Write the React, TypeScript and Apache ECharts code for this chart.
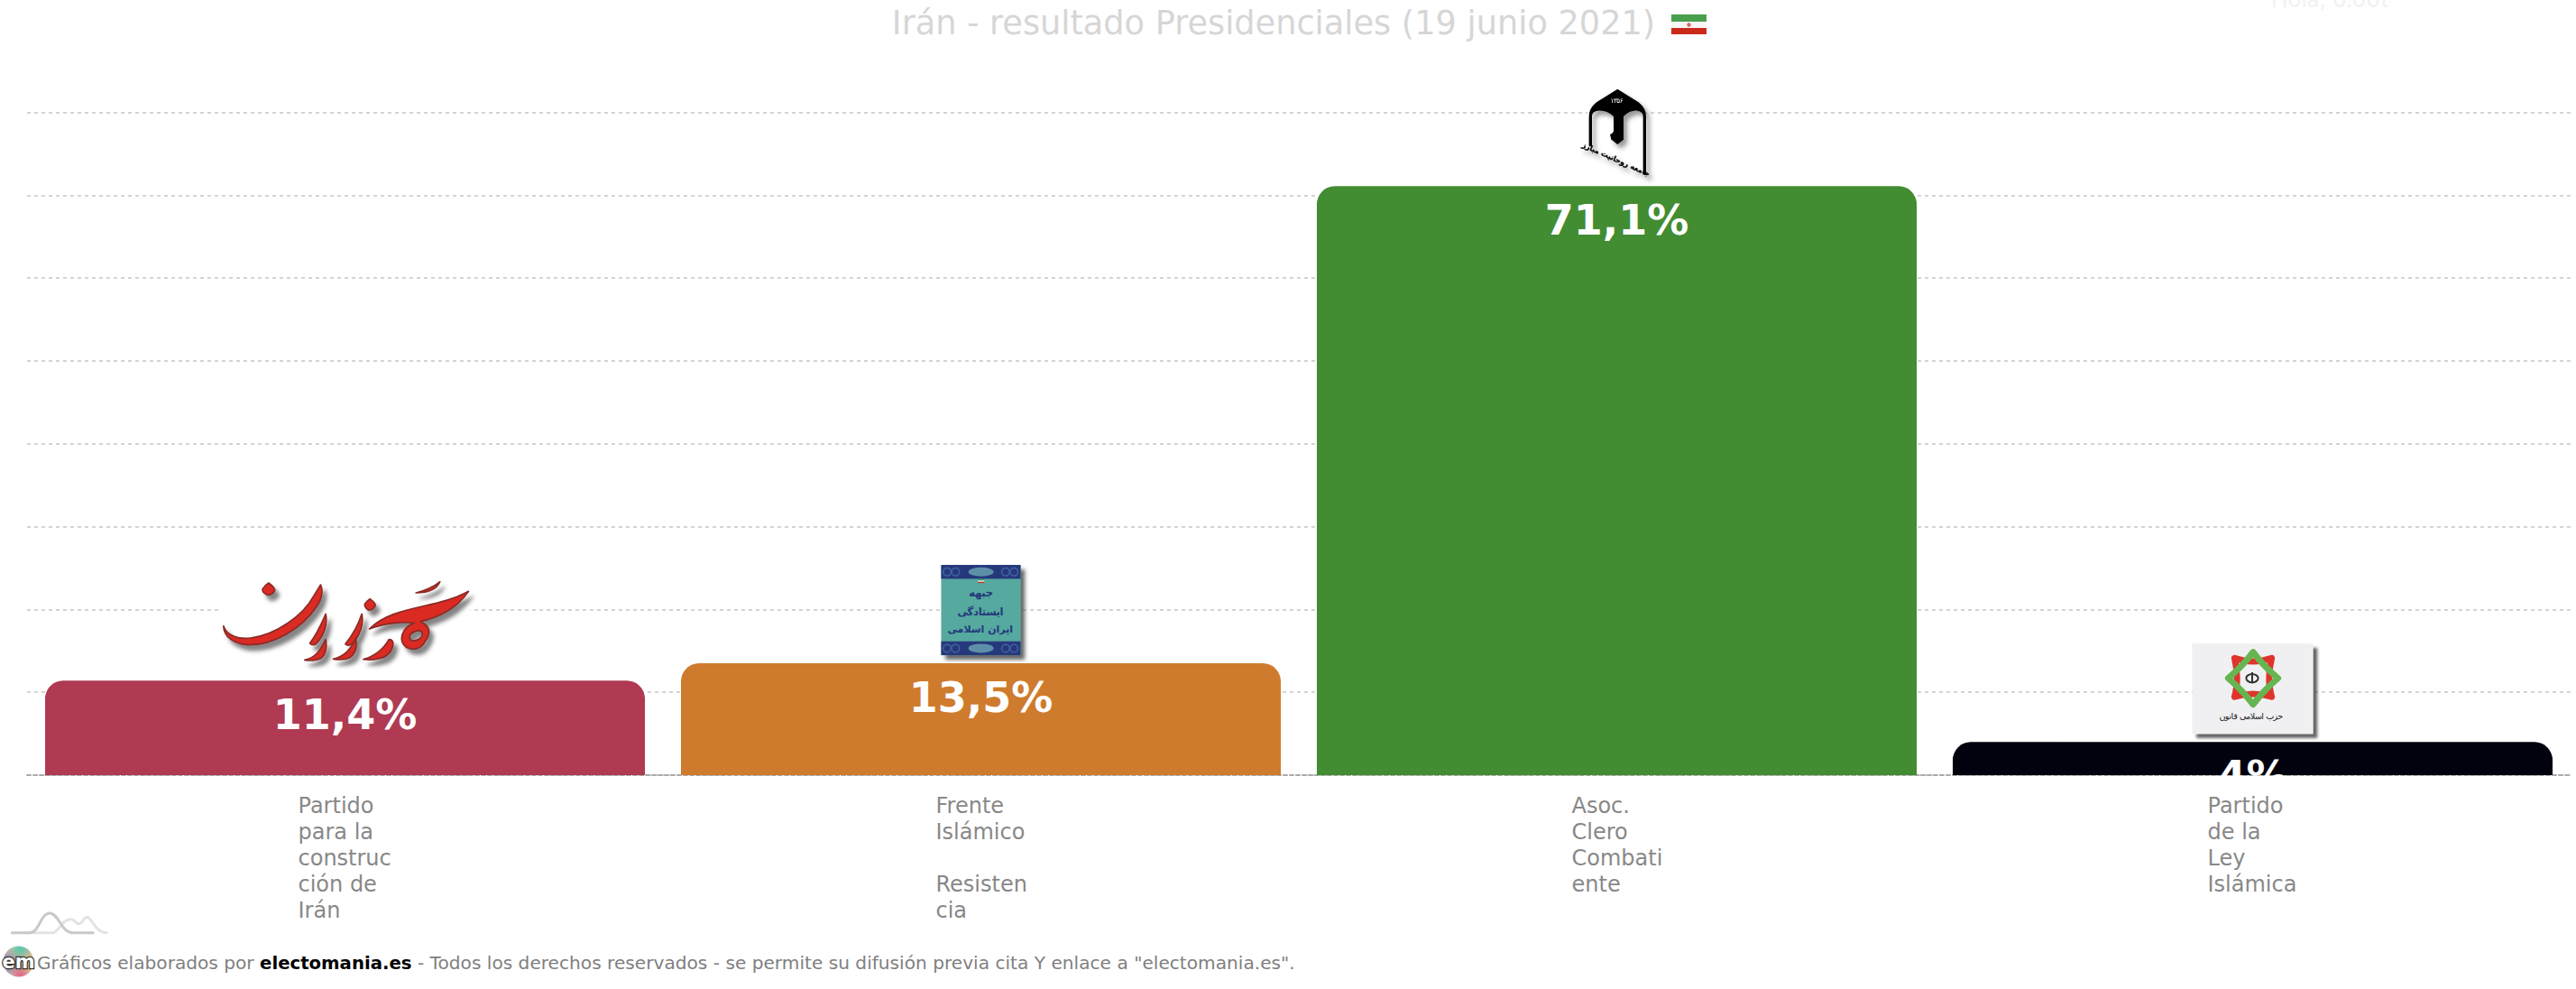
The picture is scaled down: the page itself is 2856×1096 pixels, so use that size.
import React, { useEffect, useRef } from "react";
import * as echarts from "echarts";

const title = "Irán - resultado Presidenciales (19 junio 2021)";
const categories = [
  "Partido para la construcción de Irán",
  "Frente Islámico Resistencia",
  "Asoc. Clero Combatiente",
  "Partido de la Ley Islámica",
];
const categoryLines = [
  ["Partido", "para la", "construc", "ción de", "Irán"],
  ["Frente", "Islámico", " ", "Resisten", "cia"],
  ["Asoc.", "Clero", "Combati", "ente"],
  ["Partido", "de la", "Ley", "Islámica"],
];
const values = [11.4, 13.5, 71.1, 4];
const valueLabels = ["11,4%", "13,5%", "71,1%", "4%"];
const barColors = ["#AF3A52", "#CF7B2E", "#428C32", "#02020E"];
const tickValues = [0, 10, 20, 30, 40, 50, 60, 70, 80];

const FONT = "'DejaVu Sans', Verdana, sans-serif";
const uri = (svg: string) => "image://data:image/svg+xml;charset=utf-8," + encodeURIComponent(svg);
const raw = (svg: string) => "data:image/svg+xml;charset=utf-8," + encodeURIComponent(svg);

const shadow = (id: string, dx: number, dy: number, sd: number, op: number) =>
  `<filter id="${id}" x="-30%" y="-30%" width="160%" height="160%"><feDropShadow dx="${dx}" dy="${dy}" stdDeviation="${sd}" flood-color="#333" flood-opacity="${op}"/></filter>`;

// ECharts lays an image symbol in a square and then stretches it, so every logo has a square
// intrinsic size and preserveAspectRatio="none"; the symbol size then sets its true proportions.
const head = (vb: string) =>
  `<svg xmlns="http://www.w3.org/2000/svg" width="1200" height="1200" preserveAspectRatio="none" viewBox="${vb}">`;

const logoKargozaran = `${head("36 24 906 372")}<defs>${shadow("s", 14, 18, 7, 0.6)}</defs>
<rect x="72" y="60" width="834" height="300" fill="#fff"/>
<g fill="#DA2C24" stroke="#8A2A26" stroke-width="5" stroke-linejoin="round" fill-rule="evenodd" filter="url(#s)">
<path d="M235 62Q258 78 255 88Q245 104 230 102Q212 92 215 82Q222 70 235 62Z"/>
<path d="M85 205C95 235 130 250 175 245C260 235 350 170 385 105L408 68C418 90 410 120 395 140C345 215 250 270 165 268C120 265 85 240 85 205Z"/>
<path d="M372 262C395 235 412 195 425 165C432 195 420 235 395 262C388 270 378 270 372 262Z"/>
<path d="M490 265C515 235 532 205 545 165C552 195 540 235 515 262C505 272 495 270 490 265Z"/>
<path d="M572 115Q592 130 590 138Q578 155 566 152Q552 142 555 132Q562 122 572 115Z"/>
<path d="M355 318C390 310 405 290 425 250C430 280 425 300 410 312C395 320 370 322 355 318Z"/>
<path d="M450 315C490 305 510 280 525 245C530 280 520 300 505 310C490 318 470 318 450 315Z"/>
<path d="M550 316C590 305 615 285 635 250C650 250 655 265 640 290C625 315 580 320 550 316Z"/>
<path d="M570 215C650 135 790 150 900 90C860 150 790 180 740 190C770 205 780 225 750 265C730 290 690 285 680 260C670 235 690 205 720 195C680 190 620 195 570 215ZM705 245a22 12 -25 1 0 40 -15a22 12 -25 1 0 -40 15Z"/>
<path d="M725 95C750 90 785 75 805 58C795 80 770 95 725 95Z"/>
</g></svg>`;

const ornament = (y: number) =>
  `<rect x="70" y="${y}" width="265" height="46" fill="#26387C"/>` +
  [90, 118, 285, 313].map((x) => `<circle cx="${x}" cy="${y + 23}" r="13" fill="none" stroke="#3F5F9E" stroke-width="5"/>`).join("") +
  `<ellipse cx="203" cy="${y + 23}" rx="42" ry="15" fill="#5E8FA8"/>`;
const logoFrente = `${head("34 -18 337 372")}<defs>${shadow("s", 14, 15, 7, 0.75)}</defs>
<rect x="70" y="18" width="265" height="300" fill="#54A99F" filter="url(#s)"/>
${ornament(18)}${ornament(272)}
<rect x="192" y="66" width="22" height="4" fill="#3c9a4a"/><rect x="192" y="70" width="22" height="4" fill="#fff"/><rect x="192" y="74" width="22" height="4" fill="#c9302a"/>
<g fill="#26387C" font-family="'DejaVu Sans'" font-weight="bold" text-anchor="middle">
<text x="203" y="124" font-size="36">جبهه</text>
<text x="203" y="185" font-size="36">ایستادگی</text>
<text x="203" y="243" font-size="34">ایران اسلامی</text>
</g></svg>`;

const logoClero = `${head("139 79 267 362")}<defs>${shadow("s", 12, 14, 8, 0.5)}</defs>
<rect x="175" y="115" width="195" height="290" fill="#fff"/>
<g filter="url(#s)">
<path fill="#050505" d="M275 115L345 158Q370 178 370 205V398H360V205Q360 192 345 187Q320 182 295 205V282L275 298L255 282V285L250 265Q258 262 262 255V205Q235 182 205 187Q190 192 190 205V305H180V205Q180 178 205 158Z"/>
<text x="275" y="160" fill="#fff" font-family="'DejaVu Sans'" font-size="22" text-anchor="middle">۱۳۵۶</text>
<g transform="rotate(24 272 345)" fill="#000" stroke="#000" stroke-width="0.8" font-family="'DejaVu Sans'" font-weight="bold" font-size="25" text-anchor="middle"><text x="272" y="358">جامعه روحانیت مبارز</text></g>
</g></svg>`;

const logoLey = `${head("26 4 475 372")}<defs>${shadow("s", 14, 14, 5, 0.75)}</defs>
<rect x="62" y="40" width="403" height="300" fill="#F0F0F3" filter="url(#s)"/>
<path d="M203 88Q265 110 327 88Q310 155 327 217Q265 197 203 217Q220 155 203 88Z" fill="none" stroke="#DF352B" stroke-width="21" stroke-linejoin="round"/>
<path d="M265 68Q300 115 348 155Q300 195 265 242Q230 195 182 155Q230 115 265 68Z" fill="none" stroke="#66B550" stroke-width="21" stroke-linejoin="round"/>
<g fill="none" stroke="#333" stroke-width="6"><ellipse cx="262" cy="155" rx="20" ry="14"/><path d="M262 135V172"/></g>
<text x="262" y="293" fill="#222" font-family="'DejaVu Sans'" font-size="29" text-anchor="middle">حزب اسلامی قانون</text>
</svg>`;

const logos = [
  { svg: logoKargozaran, size: [302, 124] },
  { svg: logoFrente, size: [112, 124] },
  { svg: logoClero, size: [89, 121] },
  { svg: logoLey, size: [158, 124] },
];

const mountains = `<svg xmlns="http://www.w3.org/2000/svg" viewBox="36 50 330 90"><g fill="none" stroke-width="9" stroke-linecap="round">
<path stroke="#E3E3E3" d="M110 130H175C195 130 205 85 235 85C250 85 250 100 262 100C275 100 278 78 290 78C305 78 315 130 355 130"/>
<path stroke="#C9C9C9" d="M40 130H100C130 130 135 65 165 65C195 65 205 130 240 130H310"/>
</g></svg>`;
const emBadge = `<svg xmlns="http://www.w3.org/2000/svg" viewBox="0 0 36 36"><defs><filter id="b"><feGaussianBlur stdDeviation="4"/></filter><clipPath id="c"><circle cx="18" cy="18" r="17.5"/></clipPath></defs>
<g clip-path="url(#c)"><g filter="url(#b)"><rect width="36" height="36" fill="#b9b0a0"/><circle cx="20" cy="3" r="9" fill="#5BC8A8"/><circle cx="33" cy="20" r="9" fill="#F2C25C"/><circle cx="20" cy="34" r="9" fill="#E06C8C"/><circle cx="3" cy="20" r="9" fill="#6A62B8"/></g></g></svg>`;

export default function App() {
  const ref = useRef<HTMLDivElement>(null);
  useEffect(() => {
    document.body.style.margin = "0";
    document.body.style.overflow = "hidden";
    const chart = echarts.init(ref.current!, undefined, { renderer: "svg" });
    const rich: Record<string, any> = {};
    categoryLines.forEach((lines, i) => {
      rich["c" + i] = {
        width: i === 0 ? 104 : 100, align: "left", fontFamily: FONT, fontSize: 24, lineHeight: 29, color: "#888888",
      };
    });
    chart.setOption({
      animation: false,
      backgroundColor: "#ffffff",
      grid: { left: 30, right: 6, top: 124.6, height: 734.4, containLabel: false },
      xAxis: {
        type: "category",
        data: categories,
        axisTick: { show: false },
        axisLine: { show: true, lineStyle: { color: "#aaaaaa", width: 2, type: [4, 3] } },
        axisLabel: {
          interval: 0,
          margin: 19,
          formatter: (_: string, i: number) => categoryLines[i].map((l) => `{c${i}|${l}}`).join("\n"),
          rich,
          verticalAlign: "top",
          lineHeight: 29,
        },
      },
      yAxis: {
        type: "value",
        min: tickValues[0],
        max: tickValues[tickValues.length - 1],
        interval: tickValues[1] - tickValues[0],
        axisLine: { show: false },
        axisTick: { show: false },
        axisLabel: { show: false },
        splitLine: { lineStyle: { color: "#D4D4D4", width: 1.8, type: [4, 4] } },
      },
      series: [
        {
          type: "bar",
          barWidth: "94.33%",
          z: 2,
          data: values.map((v, i) => ({
            value: v,
            itemStyle: { color: barColors[i], borderRadius: [20, 20, 0, 0] },
            label: {
              show: true,
              position: "insideTop",
              distance: 25,
              formatter: valueLabels[i],
              color: "#ffffff",
              fontFamily: FONT,
              fontWeight: "bold",
              fontSize: 46,
              lineHeight: 26,
            },
          })),
        },
        {
          type: "scatter",
          z: 3,
          clip: false,
          silent: true,
          itemStyle: { opacity: 1 },
          data: values.map((v, i) => ({
            value: v,
            symbol: uri(logos[i].svg),
            symbolSize: logos[i].size,
            symbolOffset: [0, -59],
          })),
        },
      ],
      graphic: [
        // Masks the part of a value label that falls below the axis, as the plot clips it.
        { type: "rect", z: 50, shape: { x: 2200, y: 860, width: 600, height: 18 }, style: { fill: "#ffffff" } },
        {
          type: "text", z: 60, x: 1412, y: 25,
          style: { text: title, fill: "#D6D6D6", font: `36.7px ${FONT}`, align: "center", verticalAlign: "middle" },
        },
        { type: "rect", z: 60, shape: { x: 1853, y: 16, width: 39, height: 8 }, style: { fill: "#4A9F4E" } },
        { type: "rect", z: 60, shape: { x: 1853, y: 24, width: 39, height: 7 }, style: { fill: "#F6F6F6" } },
        { type: "rect", z: 60, shape: { x: 1853, y: 31, width: 39, height: 7 }, style: { fill: "#CB2A1B" } },
        { type: "circle", z: 61, shape: { cx: 1872.5, cy: 27.5, r: 2.2 }, style: { fill: "#D9685F" } },
        {
          type: "text", z: 60, x: 2518, y: 11,
          style: { text: "Hola, 0.00t", fill: "#F1F1F1", font: "25px Inter, sans-serif", align: "left", verticalAlign: "bottom" },
        },
        { type: "image", z: 60, x: 12, y: 1007, style: { image: raw(mountains), width: 110, height: 30 } },
        { type: "image", z: 60, x: 3, y: 1048, style: { image: raw(emBadge), width: 35, height: 35 } },
        {
          type: "text", z: 62, x: 20.5, y: 1065.5,
          style: {
            text: "em", fill: "#ffffff", stroke: "#333333", lineWidth: 2.5,
            font: `bold 21px ${FONT}`, align: "center", verticalAlign: "middle",
          },
        },
        {
          type: "text", z: 60, x: 41, y: 1067,
          style: {
            text: `{g|Gráficos elaborados por }{b|electomania.es}{g| - Todos los derechos reservados - se permite su difusión previa cita Y enlace a "electomania.es".}`,
            verticalAlign: "middle",
            rich: {
              g: { fill: "#808080", color: "#808080", fontFamily: FONT, fontSize: 20.15 },
              b: { fill: "#000000", color: "#000000", fontFamily: FONT, fontSize: 19.7, fontWeight: "bold" },
            },
          },
        },
      ],
    });
    return () => chart.dispose();
  }, []);
  return <div ref={ref} style={{ position: "absolute", left: 0, top: 0, width: 2856, height: 1096 }} />;
}
